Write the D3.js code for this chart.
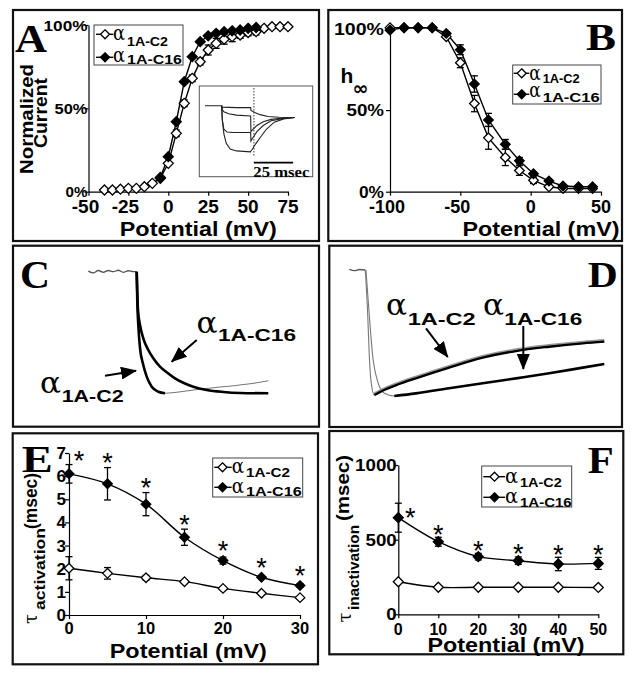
<!DOCTYPE html>
<html><head><meta charset="utf-8">
<script src="https://cdn.jsdelivr.net/npm/d3@7"></script>
<style>html,body{margin:0;padding:0;background:#fff}</style>
</head><body>
<svg id="fig" width="632" height="675"></svg>
<script>
// ================= DATA =================
// Panel A : activation (normalized current %)
const aVoltC2  = [-40,-35,-30,-25,-20,-15,-10,-5,0,5,10,15,20,25,30,35,40,45,50,55,60,65,70,75];
const aCurC2   = [1,1,1.5,2,2,3,5,8,17,35,53,68,78,85,89,91.5,93,94,95.5,96,98,99,99,99];
const aErrC2   = [0,0,0,0,0,0,0,1,1,2,2,2,2,3,3,3,3,2,2,2,1,1,1,1];
const aVoltC16 = [-5,0,5,10,15,20,25,30,35,40,45,50,55];
const aCurC16  = [8.5,21,42,66,81,90,93.5,95,96,96.5,97,98,98.5];
const aErrC16  = [0,0,0,0,0,0,0,0,0,0,0,0,0];
const aXTicks  = [-50,-25,0,25,50,75];
const aYTicks  = [0,50,100];
// Panel A inset : current traces (ms, normalized)
const inT1 = [0,10.6,10.8,20,29,29.2,32,35,40,47,57];
const inI1 = [0,0,-0.03,-0.04,-0.04,-0.1,-0.15,-0.19,-0.23,-0.245,-0.25];
const inT2 = [10.6,11,12,15,20,29,29.2,30,33,37,42,50,57];
const inI2 = [0,-0.08,-0.13,-0.17,-0.2,-0.22,-0.55,-0.52,-0.42,-0.34,-0.29,-0.26,-0.25];
const inT3 = [10.6,11,12,14,18,29,29.2,30,33,37,42,50,57];
const inI3 = [0,-0.3,-0.5,-0.56,-0.57,-0.57,-0.75,-0.7,-0.55,-0.42,-0.32,-0.27,-0.25];
const inT4 = [10.6,11,12,13.5,16,20,29,29.2,30,32,35,39,44,50,57];
const inI4 = [0,-0.3,-0.6,-0.8,-0.92,-0.96,-0.98,-0.96,-0.93,-0.82,-0.68,-0.5,-0.35,-0.28,-0.25];
const inScaleBar = 25; // msec

// Panel B : steady-state inactivation (h-infinity %)
const bVolt   = [-100,-90,-80,-70,-60,-50,-40,-30,-18,-8,2,13,23,34,44];
const bC2     = [100.5,100.5,100.5,100.5,95,79,54,33,21,13,7,3,2,2,2];
const bErrC2  = [0,0,0,0,1,3,5,7,5,3,2,1,0,0,0];
const bC16    = [99,100.5,100.5,100.5,97,87,66,44,29,19,11,6.5,3.5,3,3];
const bErrC16 = [0,0,0,0,1,3,5,4,3,2,1,1,0,0,0];
const bXTicks = [-100,-50,0,50];
const bYTicks = [0,50,100];

// Panel C : activation traces (arbitrary time units, normalized current)
const cBaseT  = [0,5,10,15,20,25,30,35,40,45,48.4];
const cBaseI  = [0.005,-0.01,0.01,-0.005,0.01,0,0.012,-0.005,0.008,0,0];
const cC2T    = [48.4,49,50,51.7,55,58.4,63.4,70,76.7];
const cC2I    = [0,-0.247,-0.438,-0.627,-0.767,-0.863,-0.946,-0.987,-1.0];
const cC2RawT = [76.7,88.4,105,125,145,165,180];
const cC2RawI = [-1.0,-0.992,-0.973,-0.954,-0.938,-0.918,-0.896];
const cC16T   = [48.4,49.7,51.7,55,60,65,71.7,78.4,86.7,95,105,118.4,135,151.7,180];
const cC16I   = [0,-0.315,-0.438,-0.548,-0.644,-0.712,-0.781,-0.827,-0.877,-0.913,-0.946,-0.973,-0.989,-0.997,-1.0];

// Panel D : inactivation traces
const dBaseT = [0,2,4,6.25];
const dBaseI = [0.005,-0.005,0.004,0];
const dC2T   = [6.25,7.2,7.8,8.5,9.8,13,19.5,26,39,52.1,65.1,78.1,91.2,99.6];
const dC2I   = [0,-0.357,-0.675,-0.886,-0.992,-0.958,-0.905,-0.86,-0.775,-0.696,-0.643,-0.609,-0.582,-0.569];
const dC16T  = [6.5,7.8,9.1,11.1,13.7,17.6,26,39,52.1,65.1,78.1,91.2,99.6];
const dC16I  = [0,-0.357,-0.675,-0.886,-0.979,-1.0,-0.979,-0.939,-0.899,-0.86,-0.82,-0.775,-0.746];

// Panel E : tau activation (msec)
const eVolt   = [0,5,10,15,20,25,30];
const eC2     = [2.02,1.8,1.61,1.44,1.15,0.94,0.75];
const eErrC2  = [0.5,0.25,0.1,0.06,0.05,0.04,0.04];
const eC16    = [6.1,5.67,4.79,3.36,2.35,1.63,1.27];
const eErrC16 = [0.4,0.7,0.5,0.35,0.15,0.06,0.06];
const eXTicks = [0,10,20,30];
const eYTicks = [0,1,2,3,4,5,6,7];

// Panel F : tau inactivation (msec)
const fVolt   = [0,10,20,30,40,50];
const fC2     = [218,181,181,181,181,180];
const fErrC2  = [0,0,0,0,0,0];
const fC16    = [647,486,386,359,337,341];
const fErrC16 = [97,30,22,25,45,40];
const fXTicks = [0,10,20,30,40,50];
const fYTicks = [0,500,1000];

const legendLabels = ["1A-C2","1A-C16"];

// ================= DRAWING =================
const svg = d3.select('#fig');
svg.append('rect').attr('width',632).attr('height',675).attr('fill','#fff');
const SANS = "'Liberation Sans', Arial, Helvetica, sans-serif";
const SERIF = "'Liberation Serif', 'Times New Roman', serif";
const GREEK = "'DejaVu Serif', serif";

function txt(x, y, s, o = {}) {
  const t = svg.append('text').attr('x', x).attr('y', y).text(s)
    .attr('font-family', o.ff || SANS).attr('font-weight', o.fw || 'bold')
    .attr('font-size', o.fs || 16).attr('text-anchor', o.anchor || 'start')
    .attr('fill', o.fill || '#000');
  if (o.w) t.attr('textLength', o.w).attr('lengthAdjust', 'spacingAndGlyphs');
  if (o.rot) t.attr('transform', `rotate(-90 ${x} ${y})`);
  return t;
}
function alpha(x, y, fs, w) { return txt(x, y, 'α', { ff: GREEK, fw: 'normal', fs: fs, w: w }); }
function box(x, y, w, h, sw, col) {
  svg.append('rect').attr('x', x).attr('y', y).attr('width', w).attr('height', h)
    .attr('fill', 'none').attr('stroke', col || '#111').attr('stroke-width', sw || 2.2);
}
function dia(cx, cy, r) { return `M${cx},${cy - r}L${cx + r},${cy}L${cx},${cy + r}L${cx - r},${cy}Z`; }

function axes(x, y, xt, yt) {
  const gx = svg.append('g').attr('transform', `translate(0,${y.range()[0]})`)
    .call(d3.axisBottom(x).tickValues(xt).tickSize(4).tickSizeOuter(0).tickFormat(''));
  const gy = svg.append('g').attr('transform', `translate(${x.range()[0]},0)`)
    .call(d3.axisLeft(y).tickValues(yt).tickSize(4).tickSizeOuter(0).tickFormat(''));
  [gx, gy].forEach(g => { g.selectAll('path,line').attr('stroke', '#000').attr('stroke-width', 1.2); });
}
function series(x, y, xs, ys, errs, filled, r, curve) {
  const pts = d3.zip(xs, ys, errs);
  svg.append('path').datum(pts)
    .attr('d', d3.line().x(d => x(d[0])).y(d => y(d[1])).curve(curve || d3.curveLinear))
    .attr('fill', 'none').attr('stroke', '#000').attr('stroke-width', 1.4);
  return pts;
}
function errbars(x, y, pts) {
  const g = svg.append('g').attr('stroke', '#000').attr('stroke-width', 1.3);
  pts.filter(d => d[2] > 0).forEach(d => {
    const cx = x(d[0]), y1 = y(d[1] - d[2]), y2 = y(d[1] + d[2]);
    g.append('line').attr('x1', cx).attr('x2', cx).attr('y1', y1).attr('y2', y2);
    g.append('line').attr('x1', cx - 3.5).attr('x2', cx + 3.5).attr('y1', y1).attr('y2', y1);
    g.append('line').attr('x1', cx - 3.5).attr('x2', cx + 3.5).attr('y1', y2).attr('y2', y2);
  });
}
function markers(x, y, pts, filled, r) {
  svg.append('g').selectAll('path').data(pts).join('path')
    .attr('d', d => dia(x(d[0]), y(d[1]), r))
    .attr('fill', filled ? '#000' : '#fff').attr('stroke', '#000').attr('stroke-width', 1.3);
}
function legend(bx, by, bw, bh, lx1, lx2, dx, ax, sx, rows, subW) {
  box(bx, by, bw, bh, 1, '#444');
  rows.forEach((rw, i) => {
    svg.append('line').attr('x1', lx1).attr('x2', lx2).attr('y1', rw.ly).attr('y2', rw.ly)
      .attr('stroke', '#000').attr('stroke-width', 1.4);
    svg.append('path').attr('d', dia(dx, rw.ly, 4.5)).attr('fill', i ? '#000' : '#fff')
      .attr('stroke', '#000').attr('stroke-width', 1.3);
    alpha(ax, rw.ab, 21, sx - ax - 2);
    txt(sx, rw.sb, legendLabels[i], { fs: 12.5, w: subW[i] });
  });
}
function star(cx, cy) {
  txt(cx, cy + 15.5, '*', { fs: 27, anchor: 'middle', fw: 'normal' });
}

// ---------- panel boxes ----------
box(13, 10, 306, 231);
box(328.3, 10, 293.7, 231);
box(13, 245.7, 306, 181);
box(329.3, 245.7, 292.7, 181.3);
box(12.7, 433.3, 305.3, 231);
box(329.3, 431, 294, 223.3);

// ---------- Panel A ----------
{
  const x = d3.scaleLinear().domain([-50, 75]).range([88.5, 288]);
  const y = d3.scaleLinear().domain([0, 100]).range([191.7, 25]);
  axes(x, y, aXTicks, aYTicks);
  aYTicks.forEach(v => txt(87.5, y(v) + 5.5, v + '%', { fs: 15, anchor: 'end', w: (String(v).length + 1) * 11 }));
  aXTicks.forEach(v => txt(x(v) + (v < 0 ? -3 : 0), 213.3, String(v), { fs: 19, anchor: 'middle' }));
  txt(198.3, 235.7, 'Potential (mV)', { fs: 20, anchor: 'middle', w: 157 });
  txt(33.3, 119, 'Normalized', { fs: 18, anchor: 'middle', rot: true, w: 110 });
  txt(47, 113, 'Current', { fs: 18, anchor: 'middle', rot: true, w: 70 });
  txt(15, 51.7, 'A', { ff: SERIF, fs: 40, w: 32 });
  const p2 = series(x, y, aVoltC2, aCurC2, aErrC2, false);
  const p16 = series(x, y, aVoltC16, aCurC16, aErrC16, true);
  errbars(x, y, p2); errbars(x, y, p16);
  markers(x, y, p2, false, 5);
  markers(x, y, p16, true, 5);
  legend(94, 25, 89, 40, 96, 113.3, 105, 113, 127,
    [{ ly: 34.3, ab: 40, sb: 45.7 }, { ly: 57.3, ab: 61.5, sb: 63.5 }], [41, 55]);

  // inset
  box(199.3, 86, 113.4, 90.7, 1, '#555');
  const ix = d3.scaleLinear().domain([0, 60]).range([205, 299.4]);
  const iy = d3.scaleLinear().domain([-1, 0]).range([152.8, 105.7]);
  const il = d3.line().x(d => ix(d[0])).y(d => iy(d[1]));
  [[inT1, inI1], [inT2, inI2], [inT3, inI3], [inT4, inI4]].forEach(([t, c]) => {
    svg.append('path').datum(d3.zip(t, c)).attr('d', il).attr('fill', 'none')
      .attr('stroke', '#222').attr('stroke-width', 1.1);
  });
  svg.append('line').attr('x1', ix(31.1)).attr('x2', ix(31.1)).attr('y1', 88).attr('y2', 157)
    .attr('stroke', '#333').attr('stroke-width', 1).attr('stroke-dasharray', '1.5,1.5');
  svg.append('line').attr('x1', ix(31)).attr('x2', ix(31 + inScaleBar)).attr('y1', 162.7).attr('y2', 162.7)
    .attr('stroke', '#000').attr('stroke-width', 1.8);
  txt(253.3, 177, inScaleBar + ' msec', { ff: SERIF, fs: 14, w: 56 });
}

// ---------- Panel B ----------
{
  const x = d3.scaleLinear().domain([-100, 50]).range([390, 601]);
  const y = d3.scaleLinear().domain([0, 100]).range([191.7, 28.5]);
  axes(x, y, bXTicks, bYTicks);
  bYTicks.forEach(v => txt(384, y(v) + 6, v + '%', { fs: 16, anchor: 'end', w: (String(v).length + 1) * 12.5 }));
  bXTicks.forEach(v => txt(x(v) + (v < 0 ? -3 : 0), 213.3, String(v), { fs: 18, anchor: 'middle' }));
  txt(541, 235.7, 'Potential (mV)', { fs: 20, anchor: 'middle', w: 157 });
  txt(340.5, 83, 'h', { fs: 21 });
  txt(352.5, 95, '∞', { ff: "'DejaVu Sans', sans-serif", fs: 19, w: 16 });
  txt(586, 50, 'B', { ff: SERIF, fs: 38, w: 30 });
  const p2 = series(x, y, bVolt, bC2, bErrC2, false);
  const p16 = series(x, y, bVolt, bC16, bErrC16, true);
  errbars(x, y, p2); errbars(x, y, p16);
  markers(x, y, p2, false, 4.8);
  markers(x, y, p16, true, 4.8);
  legend(512.7, 65, 88.3, 39, 513.7, 529.3, 521.7, 529.3, 542.7,
    [{ ly: 73.3, ab: 80, sb: 83.3 }, { ly: 94.3, ab: 97, sb: 101.7 }], [37, 57]);
}

// arrow marker
svg.append('defs').append('marker').attr('id', 'ah').attr('markerUnits', 'userSpaceOnUse')
  .attr('markerWidth', 17).attr('markerHeight', 13).attr('refX', 15).attr('refY', 6.5)
  .attr('orient', 'auto').append('path').attr('d', 'M0,0L16,6.5L0,13Z').attr('fill', '#000');
function arrow(x1, y1, x2, y2) {
  svg.append('line').attr('x1', x1).attr('y1', y1).attr('x2', x2).attr('y2', y2)
    .attr('stroke', '#000').attr('stroke-width', 2).attr('marker-end', 'url(#ah)');
}

// ---------- Panel C ----------
{
  const x = d3.scaleLinear().domain([0, 180]).range([88.3, 268.3]);
  const y = d3.scaleLinear().domain([-1, 0]).range([393.3, 271.7]);
  const ln = d3.line().x(d => x(d[0])).y(d => y(d[1])).curve(d3.curveMonotoneX);
  const draw = (t, c, col, w) => svg.append('path').datum(d3.zip(t, c)).attr('d', ln)
    .attr('fill', 'none').attr('stroke', col).attr('stroke-width', w);
  draw(cBaseT, cBaseI, '#555', 1.3);
  draw(cC2RawT, cC2RawI, '#777', 1.1);
  draw(cC16T, cC16I, '#000', 2.6);
  draw(cC2T, cC2I, '#000', 2.6);
  txt(20, 288.3, 'C', { ff: SERIF, fs: 40, w: 30 });
  alpha(196.5, 333.3, 29, 21);
  txt(218, 341, legendLabels[1], { fs: 17, w: 78 });
  arrow(196.7, 340, 171.7, 361.7);
  alpha(40, 393.3, 29, 21);
  txt(61.7, 401.7, legendLabels[0], { fs: 17, w: 62 });
  arrow(105, 375.7, 136, 370.7);
}

// ---------- Panel D ----------
{
  const x = d3.scaleLinear().domain([0, 100]).range([349.3, 605.3]);
  const y = d3.scaleLinear().domain([-1, 0]).range([396, 270]);
  const ln = d3.line().x(d => x(d[0])).y(d => y(d[1])).curve(d3.curveMonotoneX);
  const draw = (pts, col, w, dy) => svg.append('path').datum(pts).attr('d', ln)
    .attr('fill', 'none').attr('stroke', col).attr('stroke-width', w)
    .attr('transform', `translate(0,${dy || 0})`);
  draw(d3.zip(dBaseT, dBaseI), '#555', 1.3);
  const c2 = d3.zip(dC2T, dC2I), c16 = d3.zip(dC16T, dC16I);
  draw(c2, '#777', 1.1); draw(c16, '#777', 1.1);
  const m2 = d3.minIndex(dC2I), m16 = d3.minIndex(dC16I);
  draw(c2.slice(m2), '#999', 3, -1.2);
  draw(c2.slice(m2), '#000', 2.3);
  draw(c16.slice(m16), '#000', 2.6);
  txt(587.7, 286.7, 'D', { ff: SERIF, fs: 36, w: 30 });
  alpha(386, 315, 29, 21);
  txt(407.7, 325, legendLabels[0], { fs: 17, w: 68 });
  alpha(483, 315, 29, 21);
  txt(504.3, 325, legendLabels[1], { fs: 17, w: 78 });
  arrow(426, 328.3, 447.7, 357);
  arrow(523.3, 326, 523.3, 369);
}

// ---------- Panel E ----------
{
  const x = d3.scaleLinear().domain([0, 30]).range([69, 300]);
  const y = d3.scaleLinear().domain([0, 7]).range([615, 453]);
  axes(x, y, eXTicks, eYTicks);
  eYTicks.forEach(v => txt(66, y(v) + 6, String(v), { fs: 17, anchor: 'end' }));
  eXTicks.forEach(v => txt(x(v), 634, String(v), { fs: 16.5, anchor: 'middle' }));
  txt(188.3, 658, 'Potential (mV)', { fs: 20, anchor: 'middle', w: 157 });
  txt(36.7, 619, 'τ', { ff: GREEK, fw: 'normal', fs: 18, anchor: 'middle', rot: true });
  txt(45, 569, 'activation', { fs: 15, anchor: 'middle', rot: true, w: 82 });
  txt(36.5, 501, '(msec)', { fs: 19, anchor: 'middle', rot: true, w: 56 });
  txt(21.7, 471.7, 'E', { ff: SERIF, fs: 38, w: 31 });
  const cv = d3.curveCatmullRom.alpha(0.5);
  const p16 = series(x, y, eVolt, eC16, eErrC16, true, 4.7, cv);
  const p2 = series(x, y, eVolt, eC2, eErrC2, false, 4.7, cv);
  errbars(x, y, p16); errbars(x, y, p2);
  markers(x, y, p2, false, 4.8);
  markers(x, y, p16, true, 4.8);
  p16.forEach((d, i) => {
    if (i === 0) star(x(d[0]) + 10, y(d[1] + d[2]) - 10);
    else star(x(d[0]), y(Math.max(d[1] + d[2], d[1] + 0.2)) - 11);
  });
  legend(212.7, 458, 90, 39, 214.3, 231.7, 222.5, 231.7, 246,
    [{ ly: 467.3, ab: 473.3, sb: 476.7 }, { ly: 487.3, ab: 493.3, sb: 496 }], [44, 55.7]);
}

// ---------- Panel F ----------
{
  const x = d3.scaleLinear().domain([0, 50]).range([398.3, 598.3]);
  const y = d3.scaleLinear().domain([0, 1000]).range([614.3, 465]);
  axes(x, y, fXTicks, fYTicks);
  fYTicks.forEach(v => txt(396.7, y(v) + 6, String(v), { fs: 17, anchor: 'end', w: String(v).length * 10.4 }));
  fXTicks.forEach(v => txt(x(v), 634.5, String(v), { fs: 16, anchor: 'middle' }));
  txt(506, 651.5, 'Potential (mV)', { fs: 19.5, anchor: 'middle', w: 157 });
  txt(351, 617.5, 'τ', { ff: GREEK, fw: 'normal', fs: 18, anchor: 'middle', rot: true });
  txt(359.3, 567.5, 'inactivation', { fs: 15, anchor: 'middle', rot: true, w: 85 });
  txt(349, 488, '(msec)', { fs: 19, anchor: 'middle', rot: true, w: 66 });
  txt(587.7, 473, 'F', { ff: SERIF, fs: 38, w: 26 });
  const cv = d3.curveCatmullRom.alpha(0.5);
  const p16 = series(x, y, fVolt, fC16, fErrC16, true, 5, cv);
  const p2 = series(x, y, fVolt, fC2, fErrC2, false, 5, cv);
  errbars(x, y, p16); errbars(x, y, p2);
  markers(x, y, p2, false, 5);
  markers(x, y, p16, true, 5);
  p16.forEach((d, i) => {
    if (i === 0) star(x(d[0]) + 12, y(d[1]) - 6);
    else star(x(d[0]), y(d[1] + d[2]) - 9);
  });
  legend(481.7, 466, 90, 41, 483.3, 505, 494.5, 505, 520,
    [{ ly: 476.7, ab: 483.3, sb: 487.3 }, { ly: 497.3, ab: 503.3, sb: 506.5 }], [41.7, 51.7]);
}
</script>
</body></html>
